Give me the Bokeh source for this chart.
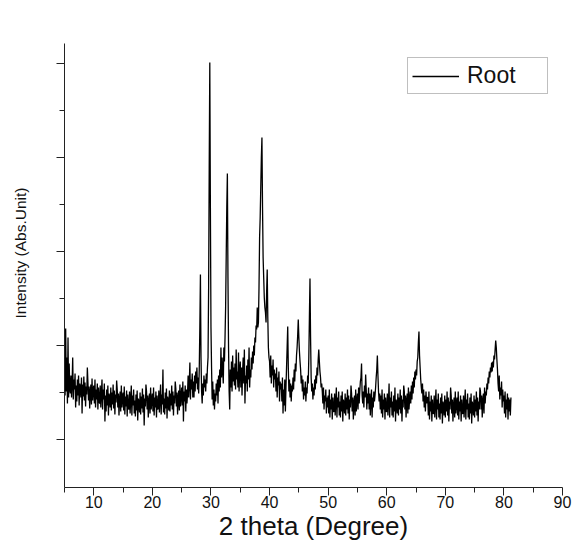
from bokeh.plotting import figure
from bokeh.models import Range1d, FixedTicker, Legend, LegendItem, Title, LinearAxis
from bokeh.embed import file_html
from bokeh.resources import INLINE

# ---- data: intensity on a 0.1-degree 2-theta grid from 5.0 ----
intensity_05_25 = [
    118, 92, 159, 96, 130, 84, 150, 90, 124, 98,     # 5
    94, 112, 90, 104, 130, 88, 108, 98, 114, 80,     # 6
    102, 86, 108, 92, 112, 82, 104, 100, 90, 110,    # 7
    74, 103, 91, 111, 87, 105, 81, 101, 93, 120,     # 8
    105, 87, 101, 79, 95, 103, 83, 109, 87, 97,      # 9
    102, 84, 108, 80, 98, 88, 104, 78, 100, 86,      # 10
    84, 102, 80, 94, 108, 78, 98, 88, 104, 66,       # 11
    92, 76, 98, 82, 102, 72, 94, 90, 80, 100,        # 12
    77, 95, 83, 103, 79, 97, 73, 93, 85, 107,        # 13
    98, 80, 94, 72, 88, 96, 76, 102, 80, 90,         # 14
    95, 77, 101, 73, 91, 81, 97, 71, 93, 79,         # 15
    78, 96, 74, 88, 102, 72, 92, 82, 98, 74,         # 16
    87, 71, 93, 77, 97, 67, 89, 85, 75, 95,          # 17
    73, 91, 79, 99, 75, 93, 62, 89, 81, 103,         # 18
    96, 78, 92, 70, 86, 94, 74, 100, 78, 88,         # 19
    94, 76, 100, 72, 90, 80, 96, 70, 92, 78,         # 20
    79, 97, 75, 89, 103, 73, 93, 83, 118, 75,        # 21
    89, 73, 95, 79, 99, 69, 91, 87, 77, 97,          # 22
    76, 94, 82, 102, 78, 96, 72, 92, 84, 106,        # 23
    99, 81, 95, 73, 89, 97, 77, 103, 81, 91,         # 24
]
intensity_25_50 = [
    100, 82, 106, 66, 96, 86, 102, 76, 98, 84,       # 25
    94, 112, 90, 104, 125, 88, 108, 98, 114, 90,     # 26
    106, 90, 112, 96, 116, 104, 120, 98, 110, 94,    # 27
    118, 160, 213, 130, 96, 84, 104, 92, 112, 100,   # 28
    108, 96, 114, 104, 120, 130, 200, 320, 425, 280, # 29
    160, 120, 88, 106, 82, 98, 78, 94, 86, 104,      # 30
    92, 108, 84, 112, 96, 118, 100, 140, 110, 130,   # 31
    118, 104, 140, 126, 150, 180, 230, 280, 314, 210, # 32
    140, 96, 78, 118, 100, 126, 96, 132, 106, 120,   # 33
    102, 124, 98, 138, 108, 116, 100, 135, 96, 118,  # 34
    126, 100, 120, 92, 116, 130, 104, 138, 84, 112,  # 35
    104, 122, 96, 128, 108, 140, 100, 118, 110, 130, # 36
    118, 136, 124, 142, 132, 150, 145, 162, 158, 180, # 37
    160, 165, 200, 250, 270, 300, 330, 350, 280, 230, # 38
    210, 190, 180, 175, 165, 195, 218, 170, 140, 130, # 39
    126, 110, 132, 104, 122, 112, 128, 100, 118, 108, # 40
    114, 96, 120, 90, 110, 102, 116, 86, 106, 98,    # 41
    104, 86, 110, 74, 98, 82, 108, 76, 100, 120,     # 42
    140, 161, 120, 96, 108, 90, 104, 86, 102, 96,    # 43
    110, 98, 118, 106, 124, 116, 132, 140, 152, 168, # 44
    150, 136, 126, 118, 104, 112, 96, 108, 88, 100,  # 45
    92, 106, 86, 100, 94, 112, 104, 130, 170, 209,   # 46
    150, 110, 96, 104, 88, 100, 92, 108, 98, 112,    # 47
    104, 120, 112, 128, 138, 126, 116, 110, 100, 104, # 48
    96, 84, 100, 78, 92, 86, 98, 74, 90, 80,         # 49
]
intensity_50_81 = [
    92, 74, 98, 70, 88, 78, 94, 68, 90, 76,          # 50
    76, 94, 72, 86, 100, 70, 90, 80, 96, 72,         # 51
    86, 70, 92, 76, 96, 66, 88, 84, 74, 94,          # 52
    72, 90, 78, 98, 74, 92, 68, 88, 80, 102,         # 53
    94, 76, 90, 68, 84, 92, 72, 98, 76, 86,          # 54
    94, 78, 100, 84, 96, 106, 110, 124, 92, 84,      # 55
    96, 80, 102, 90, 113, 98, 78, 94, 84, 100,       # 56
    78, 94, 72, 88, 98, 70, 90, 80, 96, 86,          # 57
    92, 100, 110, 118, 132, 112, 96, 86, 94, 78,     # 58
    92, 74, 98, 70, 88, 78, 94, 68, 90, 76,          # 59
    76, 94, 72, 86, 104, 70, 90, 80, 96, 72,         # 60
    86, 70, 92, 76, 100, 66, 88, 84, 74, 94,         # 61
    72, 90, 78, 98, 74, 92, 66, 88, 80, 102,         # 62
    96, 78, 92, 70, 86, 94, 74, 100, 78, 88,         # 63
    96, 84, 102, 88, 106, 94, 110, 100, 116, 108,    # 64
    118, 112, 126, 130, 145, 156, 132, 120, 108, 100, # 65
    94, 104, 86, 98, 80, 92, 76, 96, 84, 90,         # 66
    90, 72, 96, 68, 86, 76, 92, 66, 88, 74,          # 67
    74, 92, 70, 84, 98, 68, 88, 78, 94, 70,          # 68
    84, 68, 90, 74, 94, 64, 86, 82, 72, 92,          # 69
    70, 88, 76, 96, 72, 90, 66, 86, 78, 100,         # 70
    92, 74, 88, 66, 82, 90, 70, 96, 74, 84,          # 71
    90, 72, 96, 68, 86, 76, 92, 66, 88, 74,          # 72
    74, 92, 70, 84, 98, 68, 88, 78, 94, 70,          # 73
    84, 68, 90, 74, 94, 64, 86, 82, 72, 92,          # 74
    70, 88, 76, 96, 72, 90, 66, 86, 78, 100,         # 75
    96, 78, 92, 70, 86, 94, 74, 100, 84, 96,         # 76
    92, 104, 98, 110, 104, 116, 110, 120, 115, 125,  # 77
    116, 126, 120, 132, 128, 138, 147, 140, 128, 118, # 78
    104, 96, 112, 88, 100, 92, 106, 80, 98, 86,      # 79
    92, 74, 96, 70, 88, 78, 94, 68, 90, 76,          # 80
    88, 72, 90,                                      # 81
]
intensity = intensity_05_25 + intensity_25_50 + intensity_50_81
two_theta = [round(5.0 + 0.1 * i, 1) for i in range(len(intensity))]

x_major_ticks = [10, 20, 30, 40, 50, 60, 70, 80, 90]
x_minor_ticks = [5, 15, 25, 35, 45, 55, 65, 75, 85]
y_major_ticks = [48, 142, 236, 330, 424]
y_minor_ticks = [95, 189, 283, 377]
series_name = "Root"
x_title = "2 theta (Degree)"
y_title = "Intensity (Abs.Unit)"

FONT = "Liberation Sans"

p = figure(width=581, height=544, output_backend="svg", toolbar_location=None,
           x_range=Range1d(5, 90), y_range=Range1d(0, 444),
           min_border_left=64, min_border_right=19, min_border_top=43,
           min_border_bottom=57)
p.outline_line_color = None
p.xgrid.visible = False
p.ygrid.visible = False
p.background_fill_color = "white"
p.border_fill_color = "white"

r = p.line(two_theta, intensity, line_color="black", line_width=1.3)

# x axis
xa = p.xaxis[0]
xa.ticker = FixedTicker(ticks=x_major_ticks, minor_ticks=x_minor_ticks)
xa.axis_line_color = "#222222"
xa.major_tick_line_color = "#222222"
xa.minor_tick_line_color = "#222222"
xa.major_tick_out = 8
xa.major_tick_in = 0
xa.minor_tick_out = 5
xa.minor_tick_in = 0
xa.major_label_text_font = FONT
xa.major_label_text_font_size = "16px"
xa.major_label_text_color = "#111111"
xa.major_label_standoff = 0
xa.axis_label = x_title
xa.axis_label_text_font = FONT
xa.axis_label_text_font_style = "normal"
xa.axis_label_text_font_size = "26px"
xa.axis_label_text_color = "#111111"
xa.axis_label_standoff = 0

# y axis (ticks only, no tick labels)
ya = p.yaxis[0]
ya.ticker = FixedTicker(ticks=y_major_ticks, minor_ticks=y_minor_ticks)
ya.axis_line_color = "#222222"
ya.major_tick_line_color = "#222222"
ya.minor_tick_line_color = "#222222"
ya.major_tick_out = 8
ya.major_tick_in = 0
ya.minor_tick_out = 5
ya.minor_tick_in = 0
ya.major_label_overrides = {t: "" for t in y_major_ticks}
ya.major_label_standoff = 0

# invisible spacer between the y axis and its title (one hidden tick so it takes width)
spacer_tick = [222]
spacer = LinearAxis(ticker=FixedTicker(ticks=spacer_tick, minor_ticks=[]),
                    axis_line_color=None, major_tick_line_color="white",
                    major_tick_line_alpha=0, minor_tick_line_color=None,
                    major_tick_out=23, major_tick_in=0,
                    minor_tick_out=0, minor_tick_in=0,
                    major_label_standoff=0,
                    major_label_overrides={t: "" for t in spacer_tick})
p.add_layout(spacer, "left")

# y title as a side title so it can sit slightly above the axis centre
p.add_layout(Title(text=y_title, align="left", offset=169, standoff=10,
                   vertical_align="bottom",
                   text_font=FONT, text_font_size="15.5px",
                   text_font_style="normal", text_color="#111111"), "left")

legend = Legend(items=[LegendItem(label=series_name, renderers=[r])],
                location=(343, 393))
legend.label_text_font = FONT
legend.label_text_font_size = "23px"
legend.label_text_color = "#111111"
legend.border_line_color = "#808080"
legend.border_line_width = 1
legend.background_fill_color = "white"
legend.background_fill_alpha = 1
legend.padding = 4
legend.margin = 0
legend.spacing = 0
legend.glyph_width = 47
legend.glyph_height = 24
legend.label_standoff = 8
legend.label_width = 76
legend.label_height = 24
p.add_layout(legend)

open("out.html", "w").write(file_html(p, INLINE))
